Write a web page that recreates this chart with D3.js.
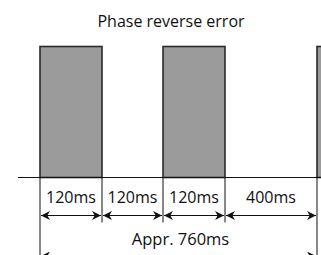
<!DOCTYPE html>
<html><head><meta charset="utf-8">
<script src="https://cdn.jsdelivr.net/npm/d3@7"></script>
<style>html,body{margin:0;padding:0;background:#fff;overflow:hidden}svg{display:block}</style>
</head><body>
<script>
const title = "Phase reverse error";
const segLabels = ["120ms", "120ms", "120ms", "400ms"];
const segDurations = [120, 120, 120, 400];
const segOn = [true, false, true, false];
const totalLabel = "Appr. 760ms";
const extraPulseStart = 760;

const W = 321, H = 255;
const svg = d3.select("body").append("svg").attr("width", W).attr("height", H);
const font = "'Open Sans', sans-serif";

const bounds = [0];
segDurations.forEach(d => bounds.push(bounds[bounds.length - 1] + d));
// schematic (piecewise) time scale
const x = d3.scaleLinear().domain(bounds).range([40, 102, 163, 225, 317]);
const yBase = 177.5, yTop = 46.5, yArrow = 215.5, yTotal = 256;

const defs = svg.append("defs");
["s", "e"].forEach(k => {
  defs.append("marker").attr("id", "ah" + k).attr("viewBox", "0 0 10 10")
    .attr("refX", 10).attr("refY", 5).attr("markerWidth", 10).attr("markerHeight", 9)
    .attr("markerUnits", "userSpaceOnUse")
    .attr("orient", k === "s" ? "auto-start-reverse" : "auto")
    .append("path").attr("d", "M0,0 L10,5 L0,10 L3,5 Z").attr("fill", "#111");
});

svg.append("text").attr("x", 171).attr("y", 27).attr("text-anchor", "middle")
  .attr("font-family", font).attr("font-size", 16).attr("fill", "#111").text(title);

const segs = segDurations.map((d, i) => ({ t0: bounds[i], t1: bounds[i + 1], on: segOn[i], label: segLabels[i] }));

// pulses
const pulses = segs.filter(s => s.on).map(s => ({ t0: s.t0, t1: s.t1 }));
pulses.push({ t0: extraPulseStart, t1: extraPulseStart + 120 });
svg.selectAll("rect.pulse").data(pulses).join("rect").attr("class", "pulse")
  .attr("x", d => x(d.t0)).attr("y", yTop)
  .attr("width", d => x(d.t1) - x(d.t0)).attr("height", yBase - yTop)
  .attr("fill", "#9b9b9b").attr("stroke", "#2a2a2a").attr("stroke-width", 1.6);

// baseline
svg.append("line").attr("x1", 18).attr("x2", W).attr("y1", yBase).attr("y2", yBase)
  .attr("stroke", "#111").attr("stroke-width", 1.2);

// vertical ticks
svg.selectAll("line.tick").data(bounds).join("line").attr("class", "tick")
  .attr("x1", d => x(d)).attr("x2", d => x(d))
  .attr("y1", yBase).attr("y2", (d, i) => (i === 0 || i === bounds.length - 1) ? H : yArrow + 7)
  .attr("stroke", "#111").attr("stroke-width", 1);

// segment labels
svg.selectAll("text.seg").data(segs).join("text").attr("class", "seg")
  .attr("x", d => (x(d.t0) + x(d.t1)) / 2).attr("y", 203)
  .attr("text-anchor", "middle").attr("font-family", font).attr("font-size", 16)
  .attr("fill", "#111").text(d => d.label);

// segment arrows
svg.selectAll("line.arr").data(segs).join("line").attr("class", "arr")
  .attr("x1", d => x(d.t0) + 1).attr("x2", d => x(d.t1) - 1)
  .attr("y1", yArrow).attr("y2", yArrow)
  .attr("stroke", "#111").attr("stroke-width", 1.2)
  .attr("marker-start", "url(#ahs)").attr("marker-end", "url(#ahe)");

// total
svg.append("text").attr("x", (x(bounds[0]) + x(bounds[bounds.length - 1])) / 2 + 2).attr("y", 245)
  .attr("text-anchor", "middle").attr("font-family", font).attr("font-size", 16.5)
  .attr("fill", "#111").text(totalLabel);
svg.append("line").attr("x1", x(bounds[0]) + 1).attr("x2", x(bounds[bounds.length - 1]) - 1)
  .attr("y1", yTotal).attr("y2", yTotal).attr("stroke", "#111").attr("stroke-width", 1.2)
  .attr("marker-start", "url(#ahs)").attr("marker-end", "url(#ahe)");
</script>
</body></html>
